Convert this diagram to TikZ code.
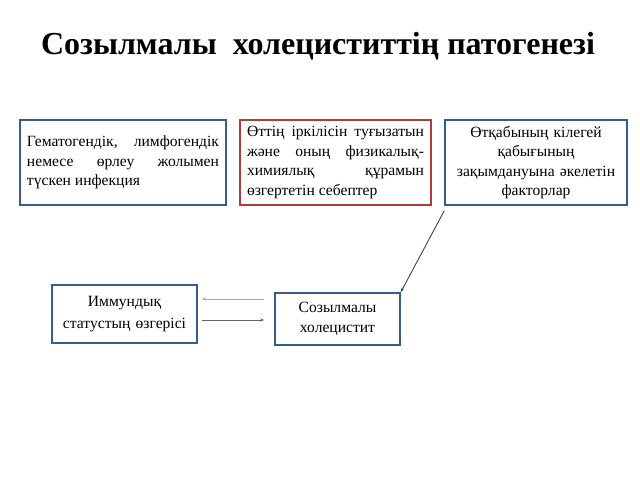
\documentclass[tikz,border=0pt]{standalone}
\usepackage{fontspec}
\setmainfont{Liberation Serif}
\usetikzlibrary{arrows.meta,calc}
\definecolor{boxblue}{HTML}{385D8A}
\definecolor{boxred}{HTML}{B23A3A}
\tikzset{
 box/.style={draw=boxblue, line width=1.5pt, inner sep=6pt, font=\fontsize{15.6}{19.5}\selectfont},
 jbox/.style={box, text width=#1, align=justify},
 cbox/.style={box, text width=#1, align=center},
 conn/.style={gray!80!black, line width=0.9pt, -{Stealth[length=4pt,width=3pt]}},
}
\begin{document}
\begin{tikzpicture}[x=1pt,y=-1pt]
\useasboundingbox (0,0) rectangle (640,480);
\node (title) at (318,46) {\fontsize{32}{36}\selectfont\bfseries Созылмалы\ \ холециститтің патогенезі};
% upper row
\node[jbox=192pt, minimum width=206pt, minimum height=85pt] (inf) at (123,162.5)
 {Гематогендік, лимфогендік немесе өрлеу жолымен түскен инфекция};
\node[jbox=177pt, draw=boxred, minimum width=191pt, minimum height=85pt] (bile) at (335.5,162.5)
 {Өттің іркілісін туғызатын және оның физикалық-химиялық құрамын өзгертетін себептер};
\node[cbox=170pt, minimum width=182pt, minimum height=85pt] (fac) at (536,162.5)
 {Өтқабының кілегей\\ қабығының\\ зақымдануына әкелетін\\ факторлар};
% lower row
\node[cbox=133pt, minimum width=145pt, minimum height=58pt, font=\fontsize{15.6}{21.5}\selectfont] (imm) at (124.5,314)
 {Иммундық\\ статустың өзгерісі};
\node[cbox=113pt, minimum width=125pt, minimum height=52pt, font=\fontsize{15.6}{20}\selectfont] (chr) at (337.5,319)
 {Созылмалы\\ холецистит};
% connectors
\draw[conn, gray!70] (chr.west |- 0,299) -- (imm.east |- 0,299) [shorten <=10pt, shorten >=4pt];
\draw[conn] (imm.east |- 0,320) -- (chr.west |- 0,320) [shorten <=4pt, shorten >=10pt];
\draw[conn, black!75] ([yshift=-5pt]fac.south west) -- (chr.north east);
\end{tikzpicture}
\end{document}
